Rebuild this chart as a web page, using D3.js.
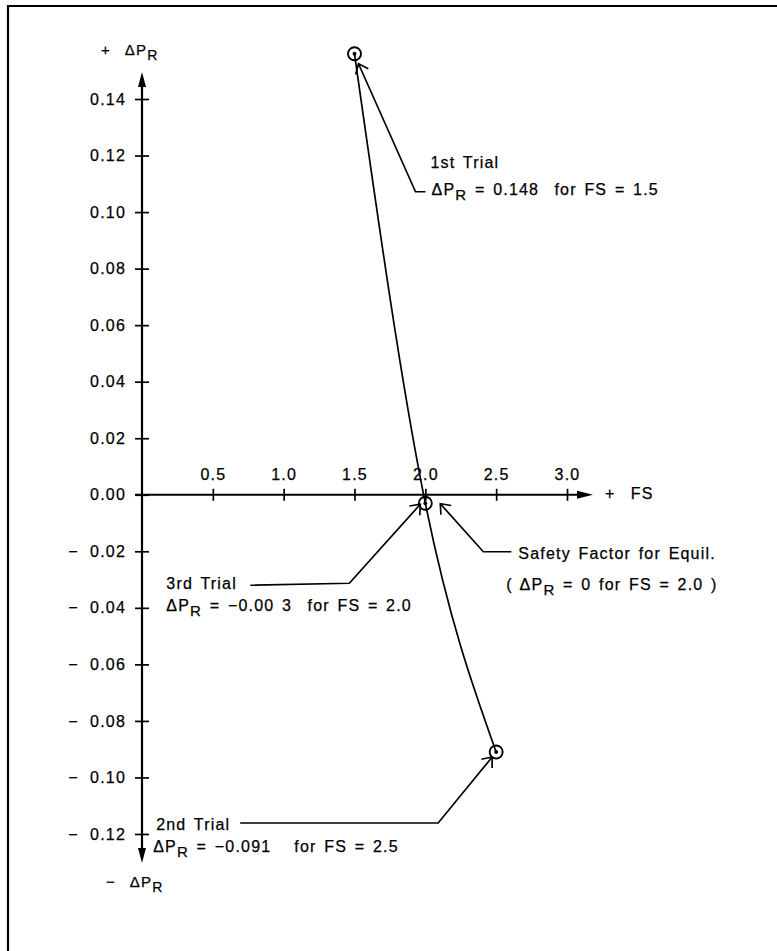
<!DOCTYPE html>
<html>
<head>
<meta charset="utf-8">
<script src="https://cdn.jsdelivr.net/npm/d3@7"></script>
<style>
  html, body { margin: 0; background: #fff; overflow: hidden; }
  svg { display: block; }
  text { font-family: "Liberation Sans", Arial, sans-serif; white-space: pre; }
</style>
</head>
<body>
<svg id="chart"></svg>
<script>
// Chart values
const fsTicks = [0.5, 1.0, 1.5, 2.0, 2.5, 3.0];
const dpTicks = [0.14, 0.12, 0.10, 0.08, 0.06, 0.04, 0.02, 0.00, -0.02, -0.04, -0.06, -0.08, -0.10, -0.12];

const trialNames = ["1st Trial", "2nd Trial", "3rd Trial"];
const trialFS = [1.5, 2.5, 2.0];
const trialDP = [0.156, -0.091, -0.003];
const trialText = [
    "\u0394P_R = 0.148  for FS = 1.5",
    "\u0394P_R = \u22120.091   for FS = 2.5",
    "\u0394P_R = \u22120.00 3  for FS = 2.0"
];

const equilFS = 2.0;
const equilDP = 0.0;
const equilText = ["Safety Factor for Equil.", "( \u0394P_R = 0 for FS = 2.0 )"];

// Page size and scales
const W = 777, H = 951;
const x = d3.scaleLinear().domain([0, 3]).range([142, 567]);
const y = d3.scaleLinear().domain([-0.12, 0.14]).range([834, 99]);

const svg = d3.select("#chart")
    .attr("width", W)
    .attr("height", H);

// Frame (only top and left edges are visible)
svg.append("path")
    .attr("d", `M8,${H} L8,6 L${W},6`)
    .attr("fill", "none")
    .attr("stroke", "#000")
    .attr("stroke-width", 2.2);

const fontSize = 16;
const spacing = 1.2;
const textStroke = 0.25;

// helper to write text with a subscript R
function label(g, px, py, str, size) {
    const fs = size || fontSize;
    const t = g.append("text")
        .attr("x", px)
        .attr("y", py)
        .attr("font-size", fs)
        .attr("letter-spacing", spacing)
        .attr("word-spacing", 2)
        .attr("stroke", "#000")
        .attr("stroke-width", textStroke);
    const parts = str.split("_R");
    parts.forEach((p, i) => {
        t.append("tspan").attr("dy", i === 0 ? 0 : -5).text(p);
        if (i < parts.length - 1) {
            t.append("tspan").attr("dy", 5).attr("font-size", fs - 1).text("R");
        }
    });
    return t;
}

function styleTicks(g) {
    g.selectAll(".tick text")
        .attr("font-family", "Liberation Sans, Arial, sans-serif")
        .attr("font-size", fontSize)
        .attr("letter-spacing", spacing)
        .attr("stroke", "#000")
        .attr("stroke-width", textStroke);
}

// Y axis
const yFmt = d => d < 0 ? "\u2212  " + d3.format(".2f")(-d) : d3.format(".2f")(d);
const yAxis = svg.append("g")
    .attr("transform", `translate(${x(0)},0)`)
    .call(d3.axisLeft(y).tickValues(dpTicks).tickSize(7).tickPadding(9).tickFormat(yFmt));
yAxis.select(".domain").remove();
yAxis.selectAll(".tick line").attr("x1", 7).attr("stroke-width", 1.7);
styleTicks(yAxis);

// X axis
const xAxis = svg.append("g")
    .attr("transform", `translate(0,${y(0)})`)
    .call(d3.axisTop(x).tickValues(fsTicks).tickSize(6).tickPadding(9).tickFormat(d3.format(".1f")));
xAxis.select(".domain").remove();
xAxis.selectAll(".tick line").attr("y1", 6).attr("stroke-width", 1.7);
styleTicks(xAxis);

// Axis lines with arrow heads
const yTop = y.range()[1] - 27, yBot = y.range()[0] + 29, xEnd = x.range()[1] + 26;
svg.append("line")
    .attr("x1", x(0)).attr("x2", x(0))
    .attr("y1", yTop + 6).attr("y2", yBot - 6)
    .attr("stroke", "#000").attr("stroke-width", 2.2);
svg.append("line")
    .attr("x1", x(0) - 7).attr("x2", xEnd - 6)
    .attr("y1", y(0)).attr("y2", y(0))
    .attr("stroke", "#000").attr("stroke-width", 2.2);
const heads = [
    `M${x(0)},${yTop} L${x(0) - 4},${yTop + 15} L${x(0) + 4},${yTop + 15} Z`,
    `M${x(0)},${yBot} L${x(0) - 4},${yBot - 15} L${x(0) + 4},${yBot - 15} Z`,
    `M${xEnd},${y(0)} L${xEnd - 16},${y(0) - 4} L${xEnd - 16},${y(0) + 4} Z`
];
svg.selectAll(".head").data(heads).enter().append("path")
    .attr("class", "head")
    .attr("d", d => d)
    .attr("fill", "#000");

// Axis titles
label(svg, 101, 55, "+  \u0394P_R", 15);
label(svg, 106, 887, "\u2212  \u0394P_R", 15);
label(svg, 605, 499, "+  FS", 16);

// Trial points joined by a smooth curve
const pts = trialFS.map((f, i) => ({ fs: f, dp: trialDP[i], name: trialNames[i], text: trialText[i] }));
const sorted = pts.slice().sort((a, b) => a.fs - b.fs);
const curve = d3.line().x(d => x(d.fs)).y(d => y(d.dp)).curve(d3.curveNatural);
svg.append("path")
    .attr("d", curve(sorted))
    .attr("fill", "none")
    .attr("stroke", "#000")
    .attr("stroke-width", 1.7);

svg.selectAll(".ring").data(pts).enter().append("circle")
    .attr("class", "ring")
    .attr("cx", d => x(d.fs)).attr("cy", d => y(d.dp))
    .attr("r", 6.5)
    .attr("fill", "none").attr("stroke", "#000").attr("stroke-width", 1.9);
svg.selectAll(".dot").data(pts).enter().append("circle")
    .attr("class", "dot")
    .attr("cx", d => x(d.fs)).attr("cy", d => y(d.dp))
    .attr("r", 1.9).attr("fill", "#000");

// Leader lines: pixel offsets from the point they point at
const leaders = [
    { tip: [4, 10], elbow: [61, 138], end: [71, 138], t1: [76, 114], t2: [77, 141] },
    { tip: [-4, 5], elbow: [-58, 71], end: [-256, 71], t1: [-340, 78], t2: [-343, 100] },
    { tip: [-5, 1], elbow: [-76, 80], end: [-175, 82], t1: [-259, 86], t2: [-259, 108] }
];
const equilLeader = { tip: [15, 9], elbow: [58, 57], end: [86, 57], t1: [93, 64], t2: [81, 95] };

function leader(px, py, L, lines) {
    const tip = [px + L.tip[0], py + L.tip[1]];
    const elbow = [px + L.elbow[0], py + L.elbow[1]];
    const end = [px + L.end[0], py + L.end[1]];
    svg.append("path")
        .attr("d", d3.line()([tip, elbow, end]))
        .attr("fill", "none").attr("stroke", "#000").attr("stroke-width", 1.7);
    // open arrow head
    const ang = Math.atan2(elbow[1] - tip[1], elbow[0] - tip[0]);
    const len = 11, spread = 0.68;
    const b1 = [tip[0] + len * Math.cos(ang + spread), tip[1] + len * Math.sin(ang + spread)];
    const b2 = [tip[0] + len * Math.cos(ang - spread), tip[1] + len * Math.sin(ang - spread)];
    svg.append("path")
        .attr("d", d3.line()([b1, tip, b2]))
        .attr("fill", "none").attr("stroke", "#000").attr("stroke-width", 1.7);
    label(svg, px + L.t1[0], py + L.t1[1], lines[0]);
    label(svg, px + L.t2[0], py + L.t2[1], lines[1]);
}

pts.forEach((d, i) => leader(x(d.fs), y(d.dp), leaders[i], [d.name, d.text]));
leader(x(equilFS), y(equilDP), equilLeader, equilText);
</script>
</body>
</html>
